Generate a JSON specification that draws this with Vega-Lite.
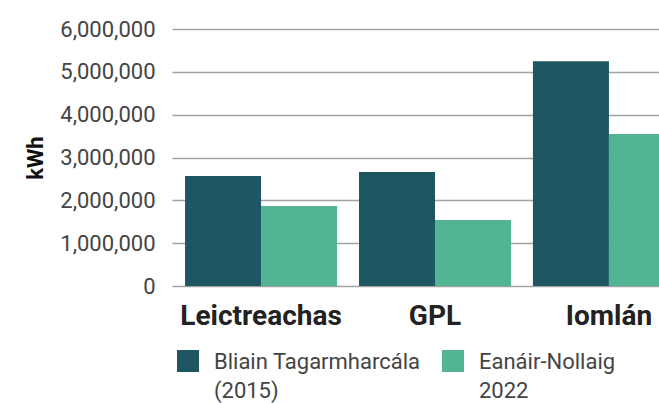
{
  "$schema": "https://vega.github.io/schema/vega-lite/v6.json",
  "width": 487,
  "height": 257,
  "autosize": {"type": "none"},
  "padding": {"left": 172, "top": 29, "right": 0, "bottom": 117},
  "background": "white",
  "data": {"values": [
    {"category": "Leictreachas", "series": "Bliain Tagarmharcála (2015)", "kwh": 2570000},
    {"category": "Leictreachas", "series": "Eanáir-Nollaig 2022", "kwh": 1870000},
    {"category": "GPL", "series": "Bliain Tagarmharcála (2015)", "kwh": 2660000},
    {"category": "GPL", "series": "Eanáir-Nollaig 2022", "kwh": 1540000},
    {"category": "Iomlán", "series": "Bliain Tagarmharcála (2015)", "kwh": 5250000},
    {"category": "Iomlán", "series": "Eanáir-Nollaig 2022", "kwh": 3550000}
  ]},
  "mark": {"type": "bar", "clip": true},
  "encoding": {
    "x": {
      "field": "category", "type": "nominal", "sort": ["Leictreachas", "GPL", "Iomlán"],
      "scale": {"range": [0, 526], "paddingInner": 0.126, "paddingOuter": 0.075},
      "axis": {"title": null, "labelAngle": 0, "domain": false, "ticks": false,
        "labelFont": "Roboto", "labelFontSize": 28, "labelFontWeight": "bold", "labelColor": "#222222",
        "labelPadding": 16}
    },
    "xOffset": {"field": "series", "type": "nominal", "sort": ["Bliain Tagarmharcála (2015)", "Eanáir-Nollaig 2022"]},
    "y": {
      "field": "kwh", "type": "quantitative",
      "scale": {"domain": [0, 6000000], "nice": false},
      "axis": {"title": "kWh", "titleFont": "Roboto", "titleFontSize": 22, "titleFontWeight": "bold", "titleColor": "#111111",
        "titlePadding": 12, "values": [0, 1000000, 2000000, 3000000, 4000000, 5000000, 6000000], "format": ",.0f",
        "domain": false, "ticks": false, "labelFont": "Roboto", "labelFontSize": 22, "labelColor": "#444444",
        "labelPadding": 17, "gridColor": "#a3a3a3", "gridWidth": 1.5}
    },
    "color": {
      "field": "series", "type": "nominal",
      "scale": {"domain": ["Bliain Tagarmharcála (2015)", "Eanáir-Nollaig 2022"], "range": ["#1e5761", "#51b492"]},
      "legend": {"title": null, "orient": "none", "legendX": 5, "legendY": 321, "direction": "horizontal",
        "symbolType": "square", "symbolSize": 484, "symbolStrokeWidth": 0, "symbolOpacity": 1,
        "labelFont": "Roboto", "labelFontSize": 22, "labelColor": "#444444", "labelOffset": 15,
        "labelBaseline": "top", "columnPadding": 21, "labelLimit": 300,
        "labelExpr": "datum.label == 'Bliain Tagarmharcála (2015)' ? ['Bliain Tagarmharcála', '(2015)'] : ['Eanáir-Nollaig', '2022']",
        "encode": {"labels": {"update": {"lineHeight": {"value": 29}, "dy": {"value": -9}}}}}
    }
  },
  "config": {"view": {"stroke": null}}
}
